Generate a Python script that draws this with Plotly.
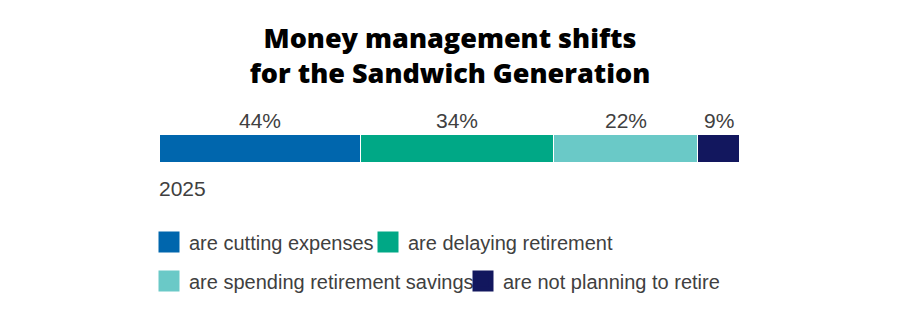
import plotly.graph_objects as go

categories = ["are cutting expenses", "are delaying retirement",
              "are spending retirement savings", "are not planning to retire"]
pct_labels = [44, 34, 22, 9]
# segment lengths (share of bar length)
segment_share = [34.6, 33.3, 24.8, 7.3]
year = ["2025"]
colors = ["#0066AD", "#00A886", "#6AC9C7", "#12175E"]

W, H = 900, 317
legend_ids = ["legend", "legend2", "legend3", "legend4"]
# legend entry anchors (left x, centre y) in container pixels
legend_pos = [(149, 242), (368, 242), (149, 281), (463, 281)]

fig = go.Figure()
for i, (name, val, col) in enumerate(zip(categories, segment_share, colors)):
    fig.add_trace(go.Bar(
        x=[val], y=[0], orientation="h", name=name,
        marker=dict(color=col, line=dict(color="white", width=1.5)),
        showlegend=False, hoverinfo="skip", width=1,
    ))
    fig.add_trace(go.Scatter(
        x=[None], y=[None], mode="markers", name=name,
        marker=dict(symbol="square", size=20, color=col,
                    line=dict(color=col, width=5)),
        legend=legend_ids[i],
    ))

# percent labels centered above segments
cum = 0
for val, lab in zip(segment_share, pct_labels):
    fig.add_annotation(x=cum + val / 2, y=0.5, xref="x", yref="y",
                       text=f"{lab}%", showarrow=False, yanchor="bottom",
                       yshift=1, font=dict(size=21, color="#404040"))
    cum += val

fig.add_annotation(x=0, y=-0.5, xref="x", yref="y", text=year[0],
                   showarrow=False, xanchor="left", yanchor="top", yshift=-12,
                   xshift=-3, font=dict(size=21, color="#404040"))

legend_font = dict(family="Liberation Sans, Arial, sans-serif", size=20, color="#404040")
legends = {}
for lid, (lx, ly) in zip(legend_ids, legend_pos):
    legends[lid] = dict(orientation="h", xref="container", yref="container",
                        x=lx / W, xanchor="left", y=1 - ly / H, yanchor="middle",
                        font=legend_font, itemsizing="trace",
                        bgcolor="rgba(0,0,0,0)")

fig.update_layout(
    width=W, height=H,
    margin=dict(l=160, r=160, t=135, b=154),
    paper_bgcolor="white", plot_bgcolor="white",
    barmode="stack", bargap=0,
    font=dict(family="Liberation Sans, Arial, sans-serif", size=19, color="#404040"),
    title=dict(text="Money management shifts<br>for the Sandwich Generation",
               x=0.5, xanchor="center", y=0.85, yanchor="top",
               font=dict(family="Open Sans, sans-serif", size=27, color="black", weight=800)),
    xaxis=dict(visible=False, range=[0, sum(segment_share)], fixedrange=True),
    yaxis=dict(visible=False, range=[-0.5, 0.5], fixedrange=True),
    **legends,
)

fig.write_html("out.html")
